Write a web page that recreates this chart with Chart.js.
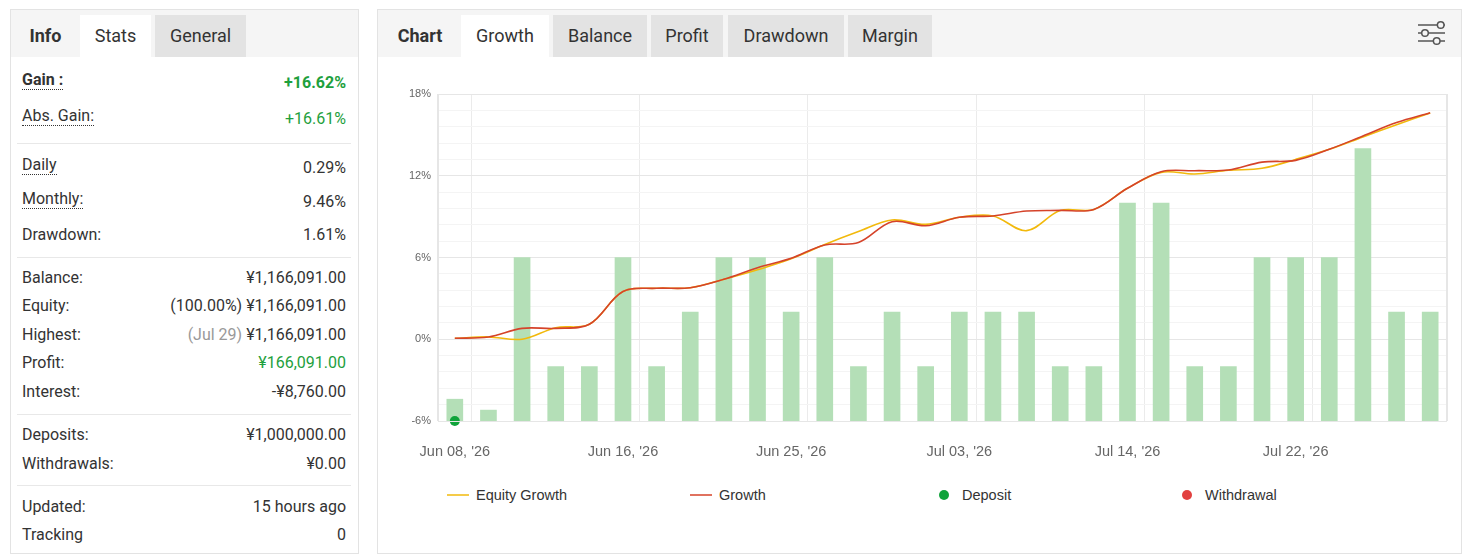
<!DOCTYPE html>
<html>
<head>
<meta charset="utf-8">
<script src="https://cdn.jsdelivr.net/npm/chart.js@4.4.1/dist/chart.umd.min.js"></script>
<style>
  body { margin:0; width:1469px; height:560px; background:#fff; position:relative; overflow:hidden;
         font-family: Roboto, "Noto Sans", sans-serif; color:#333; }
  .box { position:absolute; border:1px solid #e3e3e3; box-sizing:border-box; }
  .bar { position:absolute; background:#f5f5f5; height:47px; top:10px; }
  .tab { position:absolute; top:15px; height:42px; line-height:42px; font-size:18px; text-align:center; }
  .tab.title { font-weight:700; }
  .tab.on { background:#fff; }
  .tab.off { background:#e3e3e3; }
  .row { position:absolute; left:22px; width:324px; height:20px; line-height:20px; font-size:16px;
         display:flex; justify-content:space-between; white-space:nowrap; }
  .row .lbl.tip { position:relative; top:-2.7px; border-bottom:1px dotted #333; }
  .row b { font-weight:700; }
  .green { color:#1ea03d; }
  .grey { color:#999; }
  .sep { position:absolute; left:17px; width:334px; height:1px; background:#e8e8e8; }
  #chartBox { position:absolute; left:379px; top:58px; width:1082px; height:420px; }
  #legend { position:absolute; left:447px; top:485px; height:20px; display:flex;
            font-family:"Liberation Sans", Arial, sans-serif; font-size:14.5px; color:#333; }
  #legend .item { width:243px; display:flex; align-items:center; height:20px; }
  #legend .sym { width:22px; height:20px; position:relative; margin-right:7px; }
</style>
</head>
<body>

<!-- left panel -->
<div class="box" style="left:10px; top:9px; width:349px; height:545px;"></div>
<div class="bar" style="left:11px; width:347px;"></div>
<div class="tab title" style="left:11px; width:69px;">Info</div>
<div class="tab on" style="left:80px; width:71px;">Stats</div>
<div class="tab off" style="left:155px; width:91px;">General</div>

<div id="stats"></div>

<!-- right panel -->
<div class="box" style="left:377px; top:9px; width:1085px; height:545px;"></div>
<div class="bar" style="left:378px; width:1083px;"></div>
<div class="tab title" style="left:379px; width:82px;">Chart</div>
<div class="tab on" style="left:461px; width:88px;">Growth</div>
<div class="tab off" style="left:553px; width:94px;">Balance</div>
<div class="tab off" style="left:651px; width:72px;">Profit</div>
<div class="tab off" style="left:728px; width:116px;">Drawdown</div>
<div class="tab off" style="left:848px; width:84px;">Margin</div>
<svg style="position:absolute; left:1414px; top:18px;" width="36" height="32">
  <g stroke="#555" stroke-width="1.5" fill="#f5f5f5">
    <line x1="4" y1="7" x2="31" y2="7"/>
    <line x1="4" y1="15" x2="31" y2="15"/>
    <line x1="4" y1="23" x2="31" y2="23"/>
    <circle cx="26.7" cy="7" r="3.3"/>
    <circle cx="11" cy="15" r="3.3"/>
    <circle cx="22.7" cy="23" r="3.3"/>
  </g>
</svg>

<div id="chartBox"><canvas id="growth-chart"></canvas></div>
<div id="legend"></div>

<script>
'use strict';

/////////////////////
//// Data ///////////

const dates = ["Jun 08, '26", "Jun 09, '26", "Jun 10, '26", "Jun 11, '26", "Jun 12, '26",
  "Jun 16, '26", "Jun 17, '26", "Jun 18, '26", "Jun 22, '26", "Jun 23, '26",
  "Jun 25, '26", "Jun 26, '26", "Jun 29, '26", "Jun 30, '26", "Jul 01, '26",
  "Jul 03, '26", "Jul 06, '26", "Jul 07, '26", "Jul 08, '26", "Jul 10, '26",
  "Jul 14, '26", "Jul 15, '26", "Jul 16, '26", "Jul 17, '26", "Jul 20, '26",
  "Jul 22, '26", "Jul 23, '26", "Jul 24, '26", "Jul 27, '26", "Jul 29, '26"];

const growth = [0.07, 0.17, 0.80, 0.80, 1.10, 3.50, 3.74, 3.78, 4.40, 5.25,
  5.94, 6.92, 7.10, 8.63, 8.33, 8.95, 9.05, 9.41, 9.46, 9.53,
  11.08, 12.30, 12.37, 12.42, 13.00, 13.13, 13.94, 14.92, 15.90, 16.62];

const equityGrowth = [0.07, 0.17, 0.00, 0.85, 1.10, 3.50, 3.74, 3.78, 4.40, 5.10,
  5.90, 6.95, 7.90, 8.75, 8.43, 8.95, 9.05, 7.97, 9.45, 9.53,
  11.08, 12.25, 12.13, 12.40, 12.55, 13.20, 13.94, 14.85, 15.75, 16.61];

// bars on the hidden right axis
const dailyBars = [0.4, 0.2, 3, 1, 1, 3, 1, 2, 3, 3,
  2, 3, 1, 2, 1, 2, 2, 2, 1, 1,
  4, 4, 1, 1, 3, 3, 3, 5, 2, 2];

const depositDays = ["Jun 08, '26"];
const withdrawalDays = [];

const yTicks = [-6, 0, 6, 12, 18];
const barAxisMax = 6;

const statRows = [
  ['Gain :', '+16.62%', 88.4, 'tip bold', 'green bold'],
  ['Abs. Gain:', '+16.61%', 124, 'tip', 'green'],
  ['Daily', '0.29%', 173.4, 'tip', ''],
  ['Monthly:', '9.46%', 207.4, 'tip', ''],
  ['Drawdown:', '1.61%', 240.7, '', ''],
  ['Balance:', '¥1,166,091.00', 283, '', ''],
  ['Equity:', '(100.00%) ¥1,166,091.00', 311.8, '', ''],
  ['Highest:', '<span class="grey">(Jul 29)</span> ¥1,166,091.00', 340.3, '', ''],
  ['Profit:', '¥166,091.00', 368.8, '', 'green'],
  ['Interest:', '-¥8,760.00', 397.5, '', ''],
  ['Deposits:', '¥1,000,000.00', 440.7, '', ''],
  ['Withdrawals:', '¥0.00', 469, '', ''],
  ['Updated:', '15 hours ago', 512, '', ''],
  ['Tracking', '0', 540.7, '', '']
];
const separators = [142.5, 256.5, 413.5, 485];

/////////////////////
//// Stats panel ////

const stats = document.getElementById('stats');
statRows.forEach(function (r) {
  const row = document.createElement('div');
  row.className = 'row';
  row.style.top = (r[2] - 15.5) + 'px';
  const lbl = r[3].includes('bold') ? '<b>' + r[0] + '</b>' : r[0];
  const val = r[4].includes('bold') ? '<b>' + r[1] + '</b>' : r[1];
  row.innerHTML = '<span class="lbl ' + r[3] + '">' + lbl + '</span><span class="' + r[4] + '">' + val + '</span>';
  stats.appendChild(row);
});
separators.forEach(function (y) {
  const s = document.createElement('div');
  s.className = 'sep';
  s.style.top = y + 'px';
  stats.appendChild(s);
});

/////////////////////
//// Chart //////////

const yMin = yTicks[0];
const yMax = yTicks[yTicks.length - 1];
const yStep = (yTicks[1] - yTicks[0]) / 5;
const isMajor = function (v) {
  return yTicks.some(function (t) { return Math.abs(t - v) < 1e-6; });
};

// light frame round the plot area
const frame = {
  id: 'frame',
  afterDraw(chart) {
    const a = chart.chartArea;
    const c = chart.ctx;
    c.save();
    c.strokeStyle = '#e6e6e6';
    c.lineWidth = 1;
    c.strokeRect(a.left + 0.5, a.top + 0.5, a.right - a.left - 1, a.bottom - a.top);
    c.restore();
  }
};

Chart.defaults.font.family = '"Liberation Sans", Arial, sans-serif';

const ctx = document.getElementById('growth-chart').getContext('2d');
const chart = new Chart(ctx, {
  type: 'bar',
  data: {
    labels: dates,
    datasets: [{
      type: 'line',
      label: 'Deposit',
      data: depositDays.map(function (d) { return { x: d, y: yMin }; }),
      showLine: false,
      pointRadius: 5,
      pointBackgroundColor: '#10a33b',
      pointBorderWidth: 0,
      borderColor: '#10a33b',
      clip: false,
      order: 0
    }, {
      type: 'line',
      label: 'Withdrawal',
      data: withdrawalDays.map(function (d) { return { x: d, y: yMin }; }),
      showLine: false,
      pointRadius: 5,
      pointBackgroundColor: '#e2403f',
      borderColor: '#e2403f',
      order: 0
    }, {
      type: 'line',
      label: 'Growth',
      data: growth,
      borderColor: '#d5432a',
      borderWidth: 1.6,
      pointRadius: 0,
      tension: 0.35,
      order: 1
    }, {
      type: 'line',
      label: 'Equity Growth',
      data: equityGrowth,
      borderColor: '#f2b90c',
      borderWidth: 1.6,
      pointRadius: 0,
      tension: 0.35,
      order: 2
    }, {
      type: 'bar',
      label: 'Bars',
      data: dailyBars,
      yAxisID: 'y2',
      backgroundColor: '#b4dfb7',
      barThickness: 16,
      order: 3
    }]
  },
  options: {
    responsive: true,
    maintainAspectRatio: false,
    animation: false,
    layout: { padding: { left: 0, right: 14, top: 36, bottom: 7 } },
    plugins: { legend: { display: false }, tooltip: { enabled: false } },
    scales: {
      x: {
        grid: {
          drawTicks: false,
          color: function (c) {
            if (c.index === undefined || c.index === 0) return '#e6e6e6';
            return c.index % 5 === 1 ? '#ebebeb' : 'rgba(0,0,0,0)';
          }
        },
        border: { display: false },
        ticks: {
          autoSkip: false,
          maxRotation: 0,
          minRotation: 0,
          padding: 22,
          color: '#666',
          font: { size: 14.5 },
          callback: function (value, index) {
            return index % 5 === 0 ? this.getLabelForValue(value) : '';
          }
        },
        afterFit: function (s) { s.height = 50; }
      },
      y: {
        min: yMin,
        max: yMax,
        grid: {
          drawTicks: false,
          color: function (c) { return isMajor(c.tick.value) ? '#e6e6e6' : '#f4f4f4'; }
        },
        border: { display: true, color: '#e6e6e6' },
        ticks: {
          stepSize: yStep,
          autoSkip: false,
          padding: 7,
          color: '#666',
          font: { size: 11 },
          callback: function (v) { return isMajor(v) ? Math.round(v) + '%' : ''; }
        },
        afterFit: function (s) { s.width = 59; }
      },
      y2: {
        display: false,
        min: 0,
        max: barAxisMax
      }
    }
  },
  plugins: [frame]
});

/////////////////////
//// Legend /////////

const legend = document.getElementById('legend');
['Equity Growth', 'Growth', 'Deposit', 'Withdrawal'].forEach(function (name) {
  const ds = chart.data.datasets.find(function (d) { return d.label === name; });
  const item = document.createElement('div');
  item.className = 'item';
  const sym = document.createElement('div');
  sym.className = 'sym';
  if (ds.showLine === false) {
    sym.innerHTML = '<div style="position:absolute;left:6px;top:5px;width:10px;height:10px;border-radius:5px;background:' + ds.pointBackgroundColor + '"></div>';
  } else {
    sym.innerHTML = '<div style="position:absolute;left:0;top:9px;width:22px;height:1.5px;background:' + ds.borderColor + ';opacity:0.75"></div>';
  }
  item.appendChild(sym);
  const txt = document.createElement('span');
  txt.textContent = name;
  item.appendChild(txt);
  legend.appendChild(item);
});
</script>
</body>
</html>
